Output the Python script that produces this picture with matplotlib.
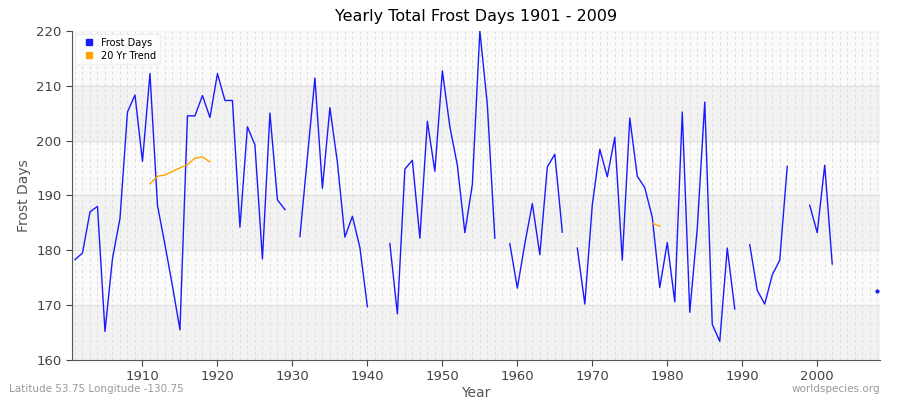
import numpy as np
import matplotlib
matplotlib.use("Agg")
import matplotlib.pyplot as plt

years = list(range(1901, 2010))
nan = np.nan
frost = [178.3,179.5,187,188,165.2,178.5,185.8,205.2,208.3,196.2,
         212.2,188.2,181,173.5,165.5,204.5,204.5,208.2,204.2,212.2,
         207.3,207.3,184.2,202.5,199.2,178.4,205,189.2,187.4,nan,
         182.5,197,211.4,191.3,206,196,182.4,186.2,180.5,169.7,
         nan,nan,181.2,168.4,194.8,196.4,182.2,203.5,194.4,212.7,
         202.5,195.5,183.2,192,220,206.5,182.2,nan,181.2,173.1,
         181.2,188.5,179.2,195.2,197.5,183.3,nan,180.4,170.2,188.3,
         198.4,193.4,200.6,178.2,204.1,193.5,191.4,186,173.2,181.4,
         170.6,205.2,168.7,184,207,166.5,163.4,180.4,169.3,nan,
         181,172.7,170.2,175.5,178.2,195.3,nan,nan,188.2,183.2,
         195.5,177.5,nan,nan,nan,nan,nan,172.5,nan]
trend_years = [1911,1912,1913,1914,1915,1916,1917,1918,1919,1978,1979]
trend_vals = [192.1,193.5,193.7,194.4,195,195.6,196.8,197,196.1,184.9,184.4]

fig = plt.figure(figsize=(9,4), dpi=100)
ax = fig.add_axes([0.08, 0.1, 0.898, 0.823])
ax.set_facecolor("#fafafa")
for lo in (160,180,200):
    ax.axhspan(lo, lo+10, color="#f2f2f2", zorder=0)
for y in range(170, 220, 10):
    ax.axhline(y, color="#e0e0e0", lw=0.8, zorder=1)
for yr in range(1901, 2009):
    ax.axvline(yr, color="#dddddd", lw=0.7, ls=(0,(3,3)), zorder=1)

yrs = np.array(years, float); fv = np.array(frost, float)
ax.plot(yrs, fv, color="#1a1aff", lw=1, zorder=3, label="Frost Days")
for i in range(len(fv)):
    if not np.isnan(fv[i]) and (i == 0 or np.isnan(fv[i-1])) and (i == len(fv)-1 or np.isnan(fv[i+1])):
        ax.plot(yrs[i], fv[i], "o", color="#1a1aff", ms=2, zorder=3)
ty = np.array(trend_years, float); tv = np.array(trend_vals)
ax.plot(ty[:9], tv[:9], color="orange", lw=1, zorder=3)
ax.plot(ty[9:], tv[9:], color="orange", lw=1, zorder=3)

ax.set_xlim(1900.6, 2008.4)
ax.set_ylim(160, 220)
ax.set_xticks(range(1910, 2010, 10))
ax.set_yticks(range(160, 221, 10))
ax.tick_params(colors="#444444", labelsize=9.5, length=4)
for s in ("top","right"):
    ax.spines[s].set_visible(False)
for s in ("left","bottom"):
    ax.spines[s].set_color("#555555")
ax.set_xlabel("Year", color="#555555", labelpad=2)
ax.set_ylabel("Frost Days", color="#555555")
ax.set_title("Yearly Total Frost Days 1901 - 2009", fontsize=11.5, pad=7)
from matplotlib.lines import Line2D
h = [Line2D([],[],marker="s",ls="",color="#1a1aff",ms=4),
     Line2D([],[],marker="s",ls="",color="orange",ms=4)]
ax.legend(h, ["Frost Days","20 Yr Trend"], loc="upper left", fontsize=7,
          frameon=True, facecolor="white", edgecolor="#eeeeee", handletextpad=0.3,
          borderaxespad=0.3, labelspacing=0.3)
fig.text(0.01, 0.02, "Latitude 53.75 Longitude -130.75", fontsize=7.5, color="#999999")
fig.text(0.978, 0.02, "worldspecies.org", fontsize=7.5, color="#999999", ha="right")
fig.savefig("out.png")
